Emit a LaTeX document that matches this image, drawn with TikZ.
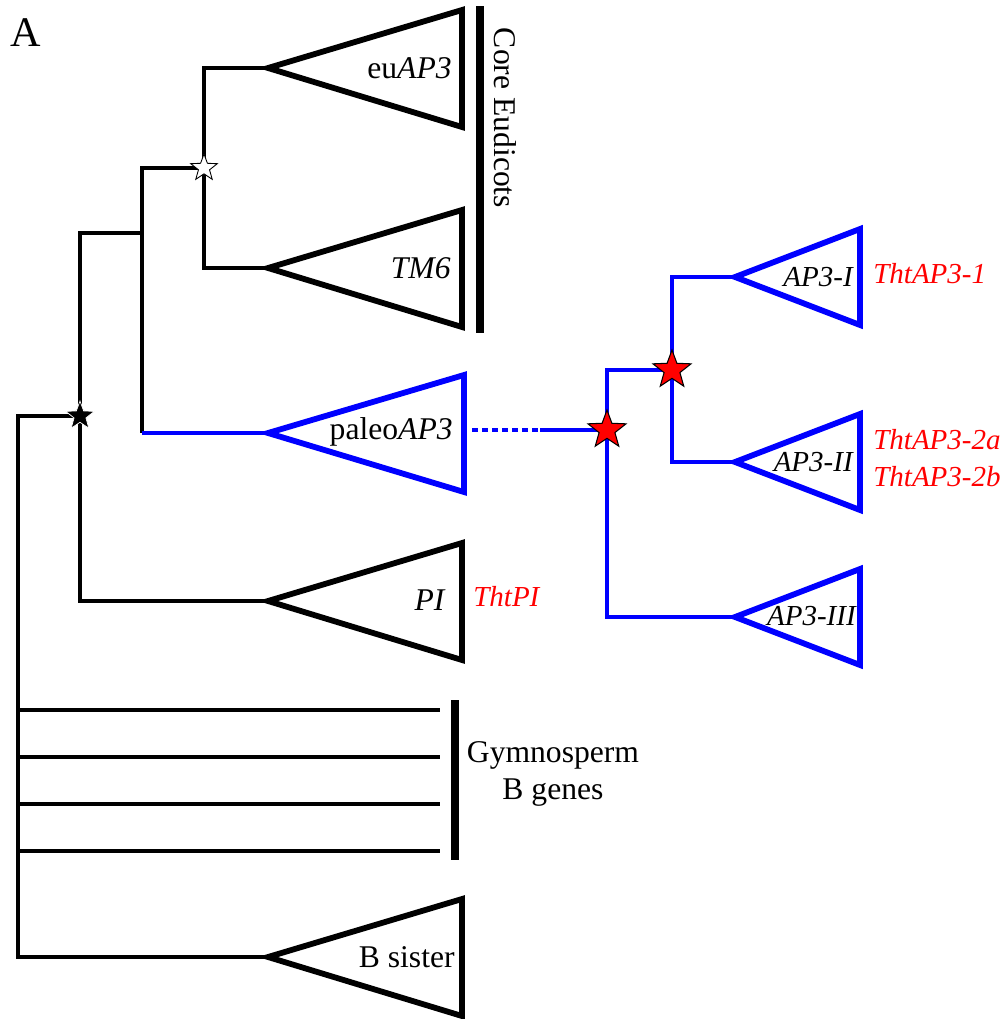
\documentclass[tikz,border=0pt]{standalone}
\usepackage{fontspec}
\setmainfont{Liberation Serif}
\usetikzlibrary{shapes.geometric}

\begin{document}
\begin{tikzpicture}[x=0.02cm,y=-0.02cm]
	 \tikzstyle{branch}=[draw,line width=2.4pt,black,line join=miter]
	 \tikzstyle{bbranch}=[draw,line width=2.4pt,blue,line join=miter]
	 \tikzstyle{clade}=[draw,line width=3.3pt,line join=miter]
	 \tikzstyle{bar}=[draw,line width=4pt]
	 \tikzstyle{lab}=[anchor=east,inner sep=0pt,font=\fontsize{18}{21}\selectfont]
	 \tikzstyle{slab}=[anchor=east,inner sep=0pt,font=\fontsize{16.5}{19}\selectfont\itshape]
	 \tikzstyle{gene}=[anchor=west,inner sep=0pt,red,font=\fontsize{16.5}{19}\selectfont\itshape]
	 \tikzstyle{dupl}=[star,star points=5,star point ratio=2.4,inner sep=0pt]
	 \useasboundingbox (0,0) rectangle (1008,1019);
	 % branch points
	 \coordinate (root) at (18,416);
	 \coordinate (angio) at (80,416);
	 \coordinate (anc) at (142,233);
	 \coordinate (core) at (204,168);
	 \coordinate (dup1) at (607,430);
	 \coordinate (dup2) at (672,370);
	 \coordinate (dot0) at (472,430);
	 \coordinate (dot1) at (540,430);
	 % clade apices
	 \coordinate (euap3) at (268,68);
	 \coordinate (tm6) at (268,268);
	 \coordinate (paleo) at (268,433);
	 \coordinate (pi) at (268,601);
	 \coordinate (bsis) at (268,957);
	 \coordinate (ap3i) at (735,277);
	 \coordinate (ap3ii) at (735,462);
	 \coordinate (ap3iii) at (735,617);
	 \coordinate (g1) at (440,710);
	 \coordinate (g2) at (440,757);
	 \coordinate (g3) at (440,804);
	 \coordinate (g4) at (440,851);
	 % black tree
	 \draw[branch] (angio) -- (root) |- (bsis);
	 \draw[branch] (anc) -| (angio) |- (pi);
	 \draw[branch] (core) -| (anc) -- (anc |- paleo);
	 \draw[branch] (euap3) -| (core) |- (tm6);
	 \foreach \g in {g1,g2,g3,g4}
	   \draw[branch] (root |- \g) -- (\g);
	 % blue tree
	 \draw[bbranch] (anc |- paleo) -- (paleo);
	 \draw[bbranch,dash pattern=on 3.4pt off 2.3pt] (dot0) -- (dot1);
	 \draw[bbranch] (dot1) -- (dup1);
	 \draw[bbranch] (dup2) -| (dup1) |- (ap3iii);
	 \draw[bbranch] (ap3i) -| (dup2) |- (ap3ii);
	 % clades
	 \draw[clade] (euap3) -- ++(194,-58) -- ++(0,117) -- cycle;
	 \draw[clade] (tm6) -- ++(194,-58) -- ++(0,117) -- cycle;
	 \draw[clade,blue] (paleo) -- ++(196,-58) -- ++(0,117) -- cycle;
	 \draw[clade] (pi) -- ++(194,-58) -- ++(0,117) -- cycle;
	 \draw[clade] (bsis) -- ++(194,-58) -- ++(0,117) -- cycle;
	 \draw[clade,blue] (ap3i) -- ++(125,-48) -- ++(0,96) -- cycle;
	 \draw[clade,blue] (ap3ii) -- ++(125,-48) -- ++(0,96) -- cycle;
	 \draw[clade,blue] (ap3iii) -- ++(125,-48) -- ++(0,96) -- cycle;
	 % bars
	 \draw[bar] (480,6) coordinate (ce0) -- (480,333) coordinate (ce1);
	 \draw[bar] (455,700) coordinate (gy0) -- (455,860) coordinate (gy1);
	 % duplication stars
	 \node[dupl,draw=black,fill=white,line width=0.5pt,minimum size=0.56cm] (corestar) at (core) {};
	 \node[dupl,draw=white,fill=black,line width=0.4pt,minimum size=0.6cm] (angiostar) at (angio) {};
	 \node[dupl,draw=black,fill=red,line width=0.6pt,minimum size=0.8cm] (dup1star) at (dup1) {};
	 \node[dupl,draw=black,fill=red,line width=0.6pt,minimum size=0.8cm] (dup2star) at (dup2) {};
	 % labels
	 \node[anchor=west,inner sep=0pt,font=\fontsize{24}{28}\selectfont] (panel) at (10,33) {A};
	 \node[lab] (euap3lab) at (452,68) {eu\textit{AP3}};
	 \node[lab] (tm6lab) at (451,268) {\textit{TM6}};
	 \node[lab] (paleolab) at (453,432) {paleo\textit{AP3}};
	 \node[lab] (pilab) at (446,600) {\textit{PI}};
	 \node[lab] (bsislab) at (455,957) {B sister};
	 \node[slab] (ap3ilab) at (853,277) {AP3-I};
	 \node[slab] (ap3iilab) at (853,462) {AP3-II};
	 \node[slab] (ap3iiilab) at (856,616) {AP3-III};
	 \node[gene] (tht1) at (873,274) {ThtAP3-1};
	 \node[gene] (tht2a) at (873,440) {ThtAP3-2a};
	 \node[gene] (tht2b) at (873,477) {ThtAP3-2b};
	 \node[gene] (thtpi) at (473,597) {ThtPI};
	 \node[rotate=-90,inner sep=0pt,font=\fontsize{18}{21}\selectfont] (corelab) at (505,118) {Core Eudicots};
	 \node[align=center,inner sep=0pt,font=\fontsize{18}{21.5}\selectfont] (gymlab) at (553,774) {Gymnosperm\\B genes};
 \end{tikzpicture}
\end{document}
